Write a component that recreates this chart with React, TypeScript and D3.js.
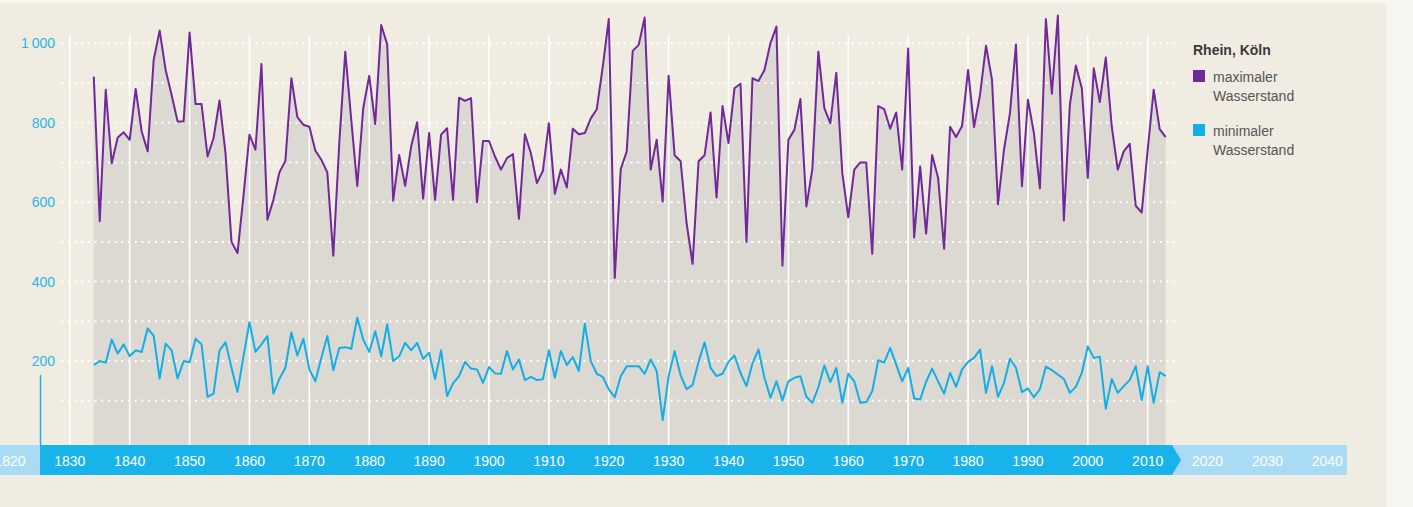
import React from "react";
import * as d3 from "d3";

const startYear = 1834;
const maxLevels = [
  916, 552, 883, 698, 763, 776, 757, 885, 778, 728, 958, 1032, 933, 870, 803, 803,
  1027, 847, 847, 715, 761, 856, 723, 500, 472, 615, 770, 732, 948, 556, 606, 675,
  704, 912, 814, 795, 790, 730, 707, 675, 465, 749, 979, 807, 641, 837, 918, 797,
  1046, 997, 604, 719, 641, 740, 801, 609, 774, 606, 770, 786, 606, 863, 855, 862,
  600, 754, 754, 715, 682, 711, 721, 558, 771, 723, 648, 679, 799, 621, 682, 637,
  785, 771, 774, 811, 834, 941, 1061, 409, 683, 728, 981, 996, 1065, 682, 757, 602,
  918, 718, 703, 547, 445, 703, 718, 826, 612, 842, 749, 887, 898, 500, 912, 905,
  933, 1000, 1042, 440, 757, 782, 860, 589, 683, 979, 837, 799, 926, 673, 562, 682,
  700, 700, 470, 842, 834, 785, 826, 682, 987, 511, 690, 521, 719, 661, 483, 790,
  764, 792, 933, 789, 870, 994, 908, 595, 732, 824, 997, 640, 858, 774, 635, 1061,
  873, 1070, 554, 845, 944, 887, 661, 937, 852, 964, 790, 682, 728, 747, 591, 574,
  732, 883, 784, 764,
];
const minLevels = [
  190, 200, 196, 254, 219, 242, 212, 227, 223, 282, 264, 156, 244, 227, 156, 200,
  197, 256, 242, 110, 118, 227, 247, 183, 122, 212, 298, 223, 242, 263, 118, 155,
  183, 272, 214, 256, 179, 149, 208, 263, 177, 233, 235, 231, 309, 254, 223, 275,
  212, 292, 200, 212, 246, 227, 246, 206, 221, 155, 227, 112, 144, 162, 198, 181,
  179, 145, 185, 169, 168, 225, 179, 204, 152, 160, 152, 154, 227, 158, 225, 190,
  210, 175, 294, 200, 168, 160, 129, 109, 162, 187, 187, 187, 168, 204, 175, 51,
  162, 225, 164, 129, 140, 198, 247, 183, 162, 168, 198, 214, 170, 137, 194, 229,
  158, 108, 149, 101, 149, 158, 162, 110, 95, 134, 189, 147, 183, 95, 168, 149,
  95, 97, 124, 202, 196, 233, 191, 149, 183, 106, 103, 148, 181, 149, 118, 170,
  135, 179, 198, 208, 229, 120, 187, 110, 145, 206, 183, 122, 131, 109, 129, 186,
  177, 166, 155, 120, 135, 170, 237, 208, 211, 80, 155, 120, 137, 152, 187, 102,
  187, 95, 172, 162,
];
const yTicks = [200, 400, 600, 800, 1000];
const gridValues = [100, 200, 300, 400, 500, 600, 700, 800, 900, 1000];
const decadeTicks = [1820, 1830, 1840, 1850, 1860, 1870, 1880, 1890, 1900, 1910, 1920, 1930, 1940, 1950, 1960, 1970, 1980, 1990, 2000, 2010, 2020, 2030, 2040];
const gridDecades = [1830, 1840, 1850, 1860, 1870, 1880, 1890, 1900, 1910, 1920, 1930, 1940, 1950, 1960, 1970, 1980, 1990, 2000, 2010];
const title = "Rhein, Köln";
const legendItems = [
  { lines: ["maximaler", "Wasserstand"], color: "#70289a" },
  { lines: ["minimaler", "Wasserstand"], color: "#12aee8" },
];

const fmt = (v: number) => (v >= 1000 ? "1\u2009000" : String(v));

export default function App() {
  const W = 1413;
  const H = 507;
  const x = d3.scaleLinear().domain([1840, 2010]).range([129.7, 1147.7]);
  const y = d3.scaleLinear().domain([0, 1000]).range([440.5, 43.3]);
  const barTop = 445;
  const barBottom = 475;

  const data = maxLevels.map((m, i) => ({ year: startYear + i, max: m, min: minLevels[i] }));

  const area = d3
    .area<{ year: number; max: number; min: number }>()
    .x((d) => x(d.year))
    .y0(barTop)
    .y1((d) => y(d.max));
  const lineMax = d3
    .line<{ year: number; max: number; min: number }>()
    .x((d) => x(d.year))
    .y((d) => y(d.max));
  const lineMin = d3
    .line<{ year: number; max: number; min: number }>()
    .x((d) => x(d.year))
    .y((d) => y(d.min));

  const darkEnd = 1172;
  const font = "'Liberation Sans', Arial, sans-serif";

  return (
    <svg
      width={W}
      height={H}
      style={{ position: "absolute", left: 0, top: 0, display: "block" }}
      fontFamily={font}
    >
      <rect x={0} y={0} width={W} height={H} fill="#f7f5f0" />
      <rect x={0} y={3} width={1386} height={H - 3} fill="#f0ece2" />

      {/* area */}
      <path d={area(data) || ""} fill="#dcd9d2" />
      <line x1={x(startYear)} x2={x(startYear)} y1={y(maxLevels[0])} y2={barTop} stroke="#e6e3dd" strokeWidth={1} />

      {/* vertical decade gridlines */}
      {gridDecades.map((d) => (
        <line key={d} x1={x(d)} x2={x(d)} y1={35} y2={barTop} stroke="#ffffff" strokeWidth={1.6} />
      ))}

      {/* dotted horizontal gridlines */}
      {gridValues.map((v) => (
        <line
          key={v}
          x1={61}
          x2={1178}
          y1={y(v)}
          y2={y(v)}
          stroke="#ffffff"
          strokeWidth={2}
          strokeDasharray="2 4.7"
        />
      ))}

      {/* y labels */}
      {yTicks.map((v) => (
        <text key={v} x={55} y={y(v) + 5} textAnchor="end" fontSize={14} fill="#2ab4e9">
          {fmt(v)}
        </text>
      ))}
      <line x1={40.5} x2={40.5} y1={375} y2={barTop} stroke="#19b3ec" strokeWidth={1.5} />

      {/* lines */}
      <path d={lineMax(data) || ""} fill="none" stroke="#70289a" strokeWidth={2} strokeLinejoin="round" />
      <path d={lineMin(data) || ""} fill="none" stroke="#12aee8" strokeWidth={2} strokeLinejoin="round" />

      {/* bottom axis bar */}
      <rect x={0} y={barTop} width={1347} height={barBottom - barTop} fill="#a9dbf4" />
      <path
        d={`M40,${barTop} L${darkEnd},${barTop} L${darkEnd + 9},${(barTop + barBottom) / 2} L${darkEnd},${barBottom} L40,${barBottom} Z`}
        fill="#19b3ec"
      />
      {decadeTicks.map((d) => (
        <text key={d} x={x(d)} y={466} textAnchor="middle" fontSize={14} fill="#ffffff">
          {d}
        </text>
      ))}

      {/* legend */}
      <text x={1193} y={55} fontSize={14} fontWeight="bold" fill="#3a3a3a">
        {title}
      </text>
      {legendItems.map((it, i) => (
        <g key={i} transform={`translate(1193, ${70 + i * 54})`}>
          <rect x={0} y={0} width={12} height={12} fill={it.color} />
          {it.lines.map((t, j) => (
            <text key={j} x={20} y={12 + j * 19} fontSize={14} fill="#555555">
              {t}
            </text>
          ))}
        </g>
      ))}
    </svg>
  );
}
